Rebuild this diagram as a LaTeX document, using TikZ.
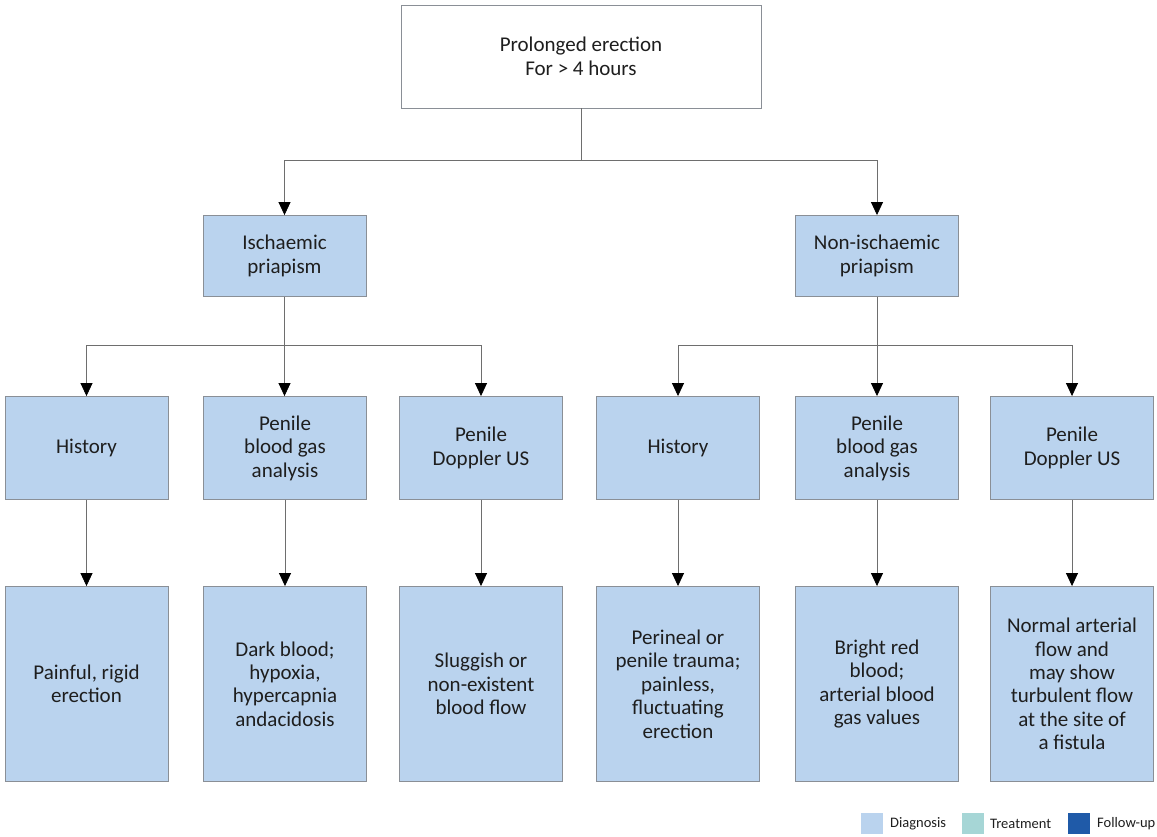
\documentclass[tikz,border=0pt]{standalone}
\usepackage{fontspec}
\setmainfont{Carlito}
\usetikzlibrary{arrows.meta}
\definecolor{diag}{HTML}{BAD3EE}
\definecolor{treat}{HTML}{A6D6D6}
\definecolor{follow}{HTML}{1F5AA8}
\definecolor{bord}{HTML}{8A8F96}
\definecolor{txt}{HTML}{1E1E1E}
\definecolor{line}{HTML}{6E6E6E}
\begin{document}
\begin{tikzpicture}[x=1pt,y=-1pt,
  box/.style={draw=bord,line width=0.9pt,fill=diag,text=txt,align=center,
    minimum width=163pt,inner sep=2pt,
    font=\fontsize{21}{23.4}\selectfont},
  topbox/.style={box,fill=white,minimum width=360pt,minimum height=103pt,
    font=\fontsize{21}{24}\selectfont},
  midbox/.style={box,minimum height=81pt},
  rowbox/.style={box,minimum height=103pt},
  resbox/.style={box,minimum height=195pt},
  conn/.style={draw=line,line width=0.8pt},
  arr/.style={conn,-{Triangle[length=13pt,width=12pt,color=black]}},
  legsq/.style={minimum width=22pt,minimum height=21pt,inner sep=0pt},
  legtxt/.style={anchor=west,inner sep=0pt,text=txt,font=\fontsize{14.5}{16}\selectfont}
]
\useasboundingbox (0,0) rectangle (1157,836);
\node[topbox] (top) at (581,56.5) {Prolonged erection\\For > 4 hours};
\node[midbox] (isch) at (284.5,256) {Ischaemic\\priapism};
\node[midbox] (nonisch) at (877,256) {Non-ischaemic\\priapism};

\node[rowbox] (h1) at (86.5,448) {History};
\node[rowbox] (b1) at (285,448) {Penile\\blood gas\\analysis};
\node[rowbox] (d1) at (481,448) {Penile\\Doppler US};
\node[rowbox] (h2) at (678,448) {History};
\node[rowbox] (b2) at (877,448) {Penile\\blood gas\\analysis};
\node[rowbox] (d2) at (1072,448) {Penile\\Doppler US};

\node[resbox] (r1) at (86.5,684) {Painful, rigid\\erection};
\node[resbox] (r2) at (285,684) {Dark blood;\\hypoxia,\\hypercapnia\\andacidosis};
\node[resbox] (r3) at (481,684) {Sluggish or\\non-existent\\blood flow};
\node[resbox] (r4) at (678,684) {Perineal or\\penile trauma;\\painless,\\fluctuating\\erection};
\node[resbox] (r5) at (877,684) {Bright red\\blood;\\arterial blood\\gas values};
\node[resbox] (r6) at (1072,684) {Normal arterial\\flow and\\may show\\turbulent flow\\at the site of\\a fistula};

% top split
\draw[conn] (top.south) -- (581,160) coordinate (j0);
\draw[arr] (j0) -| (isch.north);
\draw[arr] (j0) -| (nonisch.north);

% left split
\draw[conn] (isch.south) -- (284.5,345) coordinate (j1);
\draw[arr] (j1) -| (h1.north);
\draw[arr] (j1) -- (b1.north -| j1);
\draw[arr] (j1) -| (d1.north);

% right split
\draw[conn] (nonisch.south) -- (877,345) coordinate (j2);
\draw[arr] (j2) -| (h2.north);
\draw[arr] (j2) -- (b2.north);
\draw[arr] (j2) -| (d2.north);

% down arrows
\foreach \a/\b in {h1/r1,b1/r2,d1/r3,h2/r4,b2/r5,d2/r6}
  \draw[arr] (\a.south) -- (\b.north);

% legend
\node[legsq,fill=diag] (lg1) at (872,823.5) {};
\node[legtxt] (lt1) at (890,823.5) {Diagnosis};
\node[legsq,fill=treat] (lg2) at (972.5,823.5) {};
\node[legtxt] (lt2) at (990,823.5) {Treatment};
\node[legsq,fill=follow] (lg3) at (1079,823.5) {};
\node[legtxt] (lt3) at (1097,823.5) {Follow-up};
\end{tikzpicture}
\end{document}
